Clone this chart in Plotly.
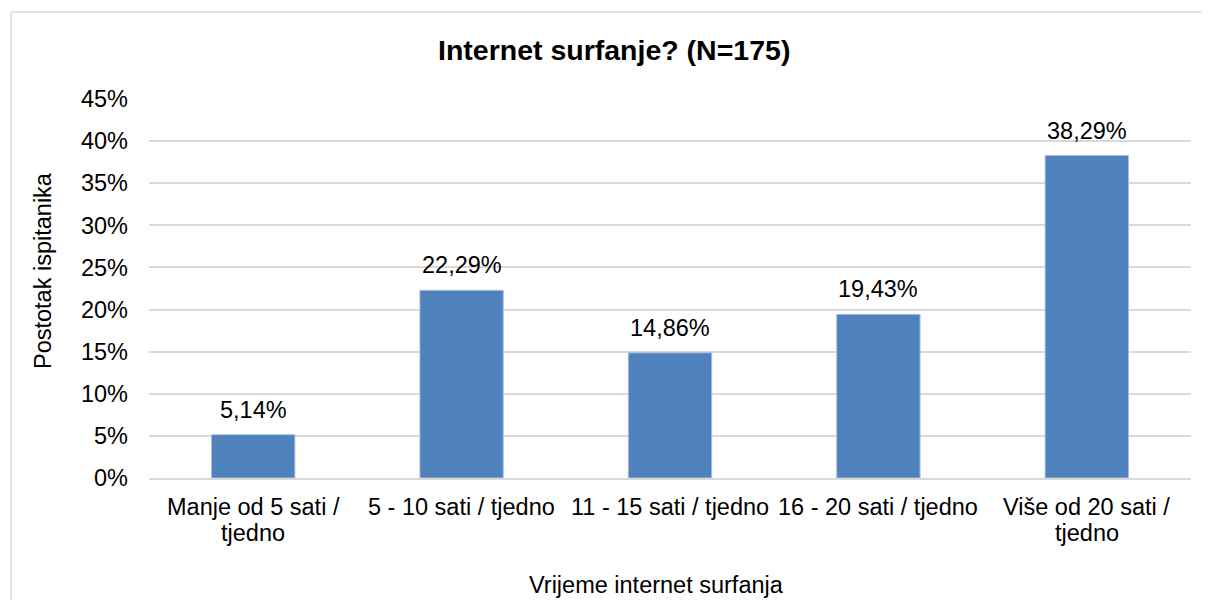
import plotly.graph_objects as go

categories = ["Manje od 5 sati / tjedno", "5 - 10 sati / tjedno", "11 - 15 sati / tjedno",
              "16 - 20 sati / tjedno", "Više od 20 sati / tjedno"]
category_lines = [["Manje od 5 sati /", "tjedno"], ["5 - 10 sati / tjedno"], ["11 - 15 sati / tjedno"],
                  ["16 - 20 sati / tjedno"], ["Više od 20 sati /", "tjedno"]]
values = [5.14, 22.29, 14.86, 19.43, 38.29]
tick_vals = [0, 5, 10, 15, 20, 25, 30, 35, 40, 45]
tick_text = [f"{v}%" for v in tick_vals]

# page offset (default body margin of the html page)
OX, OY = 8, 8
W, H = 1193, 592
# plot area in page pixels
PL, PR, PT, PB = 149, 1191, 99, 478
L, R, T, B = PL - OX, (W + OX) - PR, PT - OY, (H + OY) - PB
pw, ph = PR - PL, PB - PT

FONT = "Liberation Sans, Arial, sans-serif"
FS = 23.5

fig = go.Figure()
fig.add_trace(go.Bar(
    x=categories, y=values, width=0.4,
    marker=dict(color="#4F81BD", line=dict(color="#A7C0DE", width=1)),
    hoverinfo="skip",
))

for c, v in zip(categories, values):
    fig.add_annotation(x=c, y=v, xref="x", yref="y", text=f"{v:.2f}%".replace(".", ","),
                       showarrow=False, yanchor="bottom", xanchor="center", yshift=10,
                       font=dict(size=FS, color="#000000", family=FONT))

for c, lines in zip(categories, category_lines):
    for i, ln in enumerate(lines):
        fig.add_annotation(x=c, y=0, xref="x", yref="paper", text=ln, showarrow=False,
                           xanchor="center", yanchor="middle", yshift=-29 - 26 * i,
                           font=dict(size=FS, color="#000000", family=FONT))


def px(x):
    return (x - PL) / pw


def py(y):
    return (PB - y) / ph


# chart-area border (only top and left edges are visible in the window)
fig.add_shape(type="line", xref="paper", yref="paper", x0=px(11), x1=px(1230), y0=py(12), y1=py(12),
              line=dict(color="#D9D9D9", width=1.5), layer="below")
fig.add_shape(type="line", xref="paper", yref="paper", x0=px(11), x1=px(11), y0=py(12), y1=py(630),
              line=dict(color="#D9D9D9", width=1.5), layer="below")

fig.add_annotation(xref="paper", yref="paper", x=px(614), y=py(50), text="<b>Internet surfanje? (N=175)</b>",
                   showarrow=False, xanchor="center", yanchor="middle",
                   font=dict(size=28.5, color="#000000", family=FONT))
fig.add_annotation(xref="paper", yref="paper", x=px(656), y=py(585), text="Vrijeme internet surfanja",
                   showarrow=False, xanchor="center", yanchor="middle",
                   font=dict(size=FS, color="#000000", family=FONT))
fig.add_annotation(xref="paper", yref="paper", x=px(43), y=py(271), text="Postotak ispitanika",
                   showarrow=False, textangle=-90, xanchor="center", yanchor="middle",
                   font=dict(size=FS, color="#000000", family=FONT))

fig.update_layout(
    width=W, height=H,
    margin=dict(l=L, r=R, t=T, b=B, pad=0),
    paper_bgcolor="white", plot_bgcolor="white",
    showlegend=False,
    font=dict(family=FONT, size=FS, color="#000000"),
)
fig.update_xaxes(showgrid=False, showline=True, linecolor="#D9D9D9", linewidth=1.5,
                 ticks="", showticklabels=False)
fig.update_yaxes(range=[0, 45], tickvals=tick_vals, ticktext=tick_text, showgrid=True,
                 gridcolor="#D9D9D9", gridwidth=1.5, zeroline=False, showline=False,
                 ticks="", ticklabelstandoff=20, tickfont=dict(size=FS, color="#000000"))

fig.write_html("out.html")
